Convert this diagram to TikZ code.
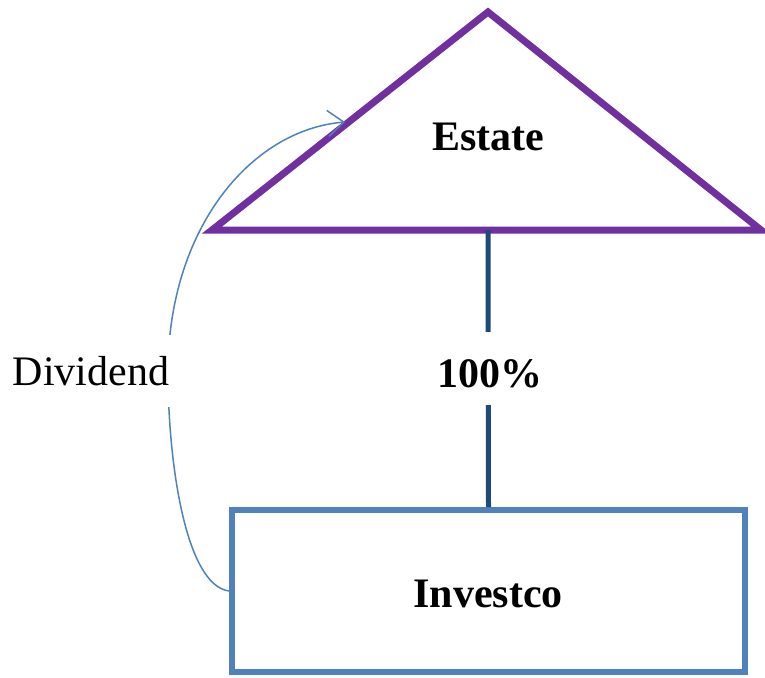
\documentclass[tikz,border=0pt]{standalone}
\usepackage{fontspec}
\setmainfont{Liberation Serif}
\usetikzlibrary{arrows.meta}
\definecolor{estatepurple}{HTML}{7030A0}
\definecolor{boxblue}{HTML}{4F81BD}
\definecolor{linkblue}{HTML}{1F497D}
\tikzset{
  lbl/.style={font=\fontsize{42}{48}\selectfont\bfseries, inner sep=0pt},
  divlbl/.style={font=\fontsize{42}{48}\selectfont, fill=white, inner xsep=3pt, inner ysep=0pt, text height=50pt, text depth=22pt},
  pctlbl/.style={font=\fontsize{42}{48}\selectfont\bfseries, fill=white, inner xsep=4pt, inner ysep=0pt, text height=55pt, text depth=18pt},
  entitybox/.style={draw=boxblue, line width=6pt, minimum width=513pt, minimum height=162pt, inner sep=0pt},
  trianglestyle/.style={draw=estatepurple, line width=7pt, line join=miter},
  linkline/.style={draw=linkblue, line width=5pt},
  divarrow/.style={draw=boxblue, line width=1.5pt, -{Straight Barb[length=16pt,width=26pt,line width=1.5pt]}}
}
\begin{document}
\begin{tikzpicture}[x=1pt,y=-1pt]
\useasboundingbox (0,0) rectangle (765,677);
% Estate triangle
\coordinate (apex) at (488,12);
\coordinate (bl) at (212,230);
\coordinate (br) at (761,230);
\coordinate (basemid) at (488,230);
\draw[trianglestyle] (apex) -- (bl) -- (br) -- cycle;
\node[lbl] (estate) at (488,137) {Estate};
% Investco box
\node[entitybox] (investco) at (488.5,591) {};
\node[lbl] (investcolabel) at (488,594) {Investco};
% ownership line
\draw[linkline] (basemid) -- (investco.north);
\node[pctlbl, anchor=base] (pct) at (490,387) {100\%};
% dividend arrow
\coordinate (arrowend) at (345,122);
\draw[divarrow] (investco.west) .. controls (185,585) and (168,460) .. (168,372)
   .. controls (168,230) and (250,130) .. (arrowend);
\node[divlbl, anchor=base] (div) at (91,385) {Dividend};
\end{tikzpicture}
\end{document}
